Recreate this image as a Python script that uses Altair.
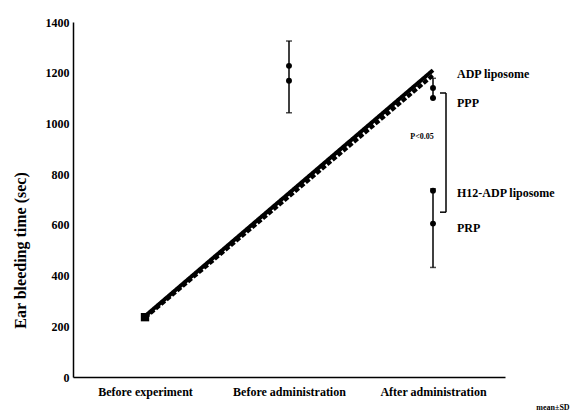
import altair as alt
import pandas as pd

categories = ["Before experiment", "Before administration", "After administration"]

# two overlapping diagonal series (ADP liposome / PPP) drawn from before experiment to after administration
line_series = ["ADP liposome", "PPP"]
line_start = [240, 234]
line_end = [1210, 1190]
start_marker = [236]

# error bar at "Before administration"
pre_admin_points = [1227, 1168]
pre_admin_err = [1042, 1325]

# upper error bar at "After administration"
upper_points = [1140, 1100]
upper_err = [1100, 1178]

# lower error bar at "After administration"
lower_points = [735, 605]
lower_err = [432, 742]

label_texts = ["ADP liposome", "PPP", "H12-ADP liposome", "PRP"]
label_values = [1195, 1080, 725, 587]

bracket_values = [650, 1120]
p_text = ["P<0.05"]
p_value = [946]

FONT = "Liberation Serif"

line_df = pd.DataFrame({
    "series": line_series * 2,
    "cat": [categories[0]] * 2 + [categories[2]] * 2,
    "value": line_start + line_end,
})
start_df = pd.DataFrame({"cat": [categories[0]], "value": start_marker})
err_df = pd.DataFrame({
    "cat": [categories[1], categories[2], categories[2]],
    "lo": [pre_admin_err[0], upper_err[0], lower_err[0]],
    "hi": [pre_admin_err[1], upper_err[1], lower_err[1]],
})
cap_df = pd.DataFrame({
    "cat": [categories[1]] * 2 + [categories[2]] * 4,
    "value": pre_admin_err + upper_err + lower_err,
})
pt_df = pd.DataFrame({
    "cat": [categories[1]] * 2 + [categories[2]] * 4,
    "value": pre_admin_points + upper_points + lower_points,
})
lab_df = pd.DataFrame({"cat": [categories[2]] * 4, "value": label_values, "text": label_texts})
br_df = pd.DataFrame({"lo": [bracket_values[0]], "hi": [bracket_values[1]]})
brt_df = pd.DataFrame({"value": bracket_values})
p_df = pd.DataFrame({"value": p_value, "text": p_text})

xenc = alt.X("cat:N", sort=categories,
             scale=alt.Scale(domain=categories, type="point", padding=0.5),
             axis=alt.Axis(title=None, labelAngle=0, labelFont=FONT, labelFontWeight="bold",
                           labelFontSize=12, labelColor="black", labelPadding=9,
                           ticks=False, domainColor="black", domainWidth=1.5))
yscale = alt.Scale(domain=[0, 1400], nice=False)
yaxis = alt.Axis(title="Ear bleeding time (sec)", values=[0, 200, 400, 600, 800, 1000, 1200, 1400],
                 format="d", grid=False, ticks=False, labelFont=FONT, labelFontWeight="bold",
                 labelFontSize=12, labelColor="black", labelPadding=4, domainColor="black",
                 domainWidth=1.5, titleFont=FONT, titleFontWeight="bold", titleFontSize=16,
                 titleColor="black", titleX=-53, titleY=228, titleAngle=-90, titleAlign="center",
                 titleBaseline="middle")

lines = alt.Chart(line_df).mark_line(color="black", strokeWidth=4).encode(
    x=xenc,
    y=alt.Y("value:Q", scale=yscale, axis=yaxis),
    detail="series:N",
    strokeDash=alt.StrokeDash("series:N", scale=alt.Scale(domain=line_series, range=[[1, 0], [5, 2]]), legend=None),
)
start = alt.Chart(start_df).mark_square(color="black", size=70, opacity=1).encode(
    x=alt.X("cat:N", sort=categories), y="value:Q")
errs = alt.Chart(err_df).mark_rule(color="black", strokeWidth=1.5).encode(
    x=alt.X("cat:N", sort=categories), y="lo:Q", y2="hi:Q")
caps = alt.Chart(cap_df).mark_tick(color="black", size=6, thickness=1.5, orient="horizontal").encode(
    x=alt.X("cat:N", sort=categories), y="value:Q")
pts = alt.Chart(pt_df).mark_point(color="black", filled=True, size=35, opacity=1).encode(
    x=alt.X("cat:N", sort=categories), y="value:Q")
labels = alt.Chart(lab_df).mark_text(align="left", baseline="middle", dx=24, font=FONT,
                                     fontWeight="bold", fontSize=12, color="black").encode(
    x=alt.X("cat:N", sort=categories), y="value:Q", text="text:N")
bracket = alt.Chart(br_df).mark_rule(color="black", strokeWidth=1.5).encode(
    x=alt.value(373), y="lo:Q", y2="hi:Q")
bracket_ticks = alt.Chart(brt_df).mark_rule(color="black", strokeWidth=1.5).encode(
    x=alt.value(367), x2=alt.value(373), y="value:Q")
ptext = alt.Chart(p_df).mark_text(align="center", baseline="middle", font=FONT, fontWeight="bold",
                                  fontSize=8, color="black").encode(
    x=alt.value(349), y="value:Q", text="text:N")
sd = alt.Chart(pd.DataFrame({"text": ["mean±SD"]})).mark_text(
    align="center", baseline="middle", font=FONT, fontWeight="bold", fontSize=8, color="black").encode(
    x=alt.value(480), y=alt.value(386), text="text:N")

chart = alt.layer(lines, start, errs, caps, pts, labels, bracket, bracket_ticks, ptext, sd).properties(
    width=432, height=355,
    autosize=alt.AutoSizeParams(type="none"),
    padding={"left": 73, "top": 22, "right": 69, "bottom": 42},
    background="white",
).configure_view(stroke=None)

chart.save("out.html", embed_options={"renderer": "svg", "actions": False})
